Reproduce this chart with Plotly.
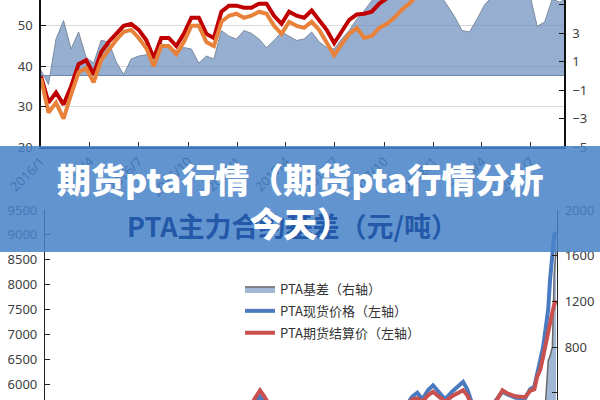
import plotly.graph_objects as go
import pandas as pd

# ---------------- top chart data (14-day steps from 2016-01-01) ----------------
top_dates = pd.date_range("2016-01-01", periods=71, freq="14D")

top_futures = [37.5, 31.0, 33.5, 30.5, 35.0, 40.5, 41.5, 38.0, 43.5, 46.0,
               48.0, 50.0, 50.5, 49.0, 46.5, 42.0, 47.0, 47.0, 45.0, 48.0,
               52.0, 52.0, 48.0, 47.0, 53.5, 55.0, 55.0, 54.5, 54.5, 55.5,
               55.5, 52.5, 50.5, 53.5, 52.5, 52.0, 53.8, 51.5, 49.0, 45.7,
               48.5, 51.5, 52.8, 53.0, 53.5, 55.5, 56.8, 58.0, 59.0, 60.0,
               61, 62, 63, 64, 65, 64, 63, 62, 64, 65,
               66, 67, 65, 64, 66, 68, 70, 72, 74, 77, 80]

top_spot = [37.0, 28.5, 31.0, 27.0, 33.0, 38.5, 39.5, 36.0, 41.5, 44.0,
            46.5, 48.5, 49.0, 47.0, 44.5, 40.0, 45.0, 45.0, 43.0, 46.0,
            50.0, 50.0, 46.0, 45.0, 51.0, 52.5, 53.0, 52.0, 52.5, 53.5,
            53.0, 50.0, 48.0, 51.0, 50.0, 49.5, 51.0, 49.0, 46.0, 42.7,
            45.5, 48.0, 49.5, 47.0, 47.5, 49.5, 50.5, 52.0, 54.0, 55.5,
            57.5, 59, 61, 62, 63, 62, 61, 60, 62, 63,
            64, 65, 63, 62, 64, 66, 68, 70, 72, 75, 78]

top_basis = [0.4, -0.6, 2.6, 3.9, 1.9, 3.1, 1.3, 0.9, 2.5, 2.4,
             1.0, 0.1, 1.2, 1.4, 1.5, 1.3, 2.3, 2.0, 1.8, 2.0,
             1.9, 0.9, 1.4, 1.2, 3.2, 2.8, 2.6, 3.2, 3.0, 2.6,
             2.0, 2.5, 3.1, 2.8, 2.5, 2.6, 3.1, 2.4, 2.0, 1.9,
             2.6, 3.2, 4.0, 4.6, 5.3, 6.0, 6.5, 7.0, 7.5, 7.0,
             6.5, 6.8, 6.2, 5.8, 5.0, 4.2, 3.2, 3.1, 4.0, 5.0,
             5.6, 6.5, 7.0, 6.8, 6.2, 5.8, 3.5, 3.8, 5.4, 5.2, 5.5]

top_tickvals = ["2016-01-01", "2016-04-01", "2016-07-01", "2016-10-01",
                "2017-01-01", "2017-04-01", "2017-07-01", "2017-10-01",
                "2018-01-01", "2018-04-01", "2018-07-01"]
top_ticktext = ["2016/1", "2016/4", "2016/7", "2016/10", "2017/1", "2017/4",
                "2017/7", "2017/10", "2018/1", "2018/4", "2018/7"]

# ---------------- bottom chart data ----------------
bot_dates = ["2015-09-01", "2016-04-15", "2016-10-27", "2016-11-17", "2016-11-30",
             "2016-12-09", "2016-12-18", "2016-12-31", "2017-02-12", "2017-05-09",
             "2017-08-26", "2017-10-19", "2017-11-03", "2017-11-14", "2017-11-25",
             "2017-12-07", "2017-12-18", "2017-12-29", "2018-01-13", "2018-01-28",
             "2018-02-10", "2018-02-21", "2018-03-02", "2018-03-13", "2018-04-10",
             "2018-05-06", "2018-05-17", "2018-05-27", "2018-06-14", "2018-07-05",
             "2018-07-16", "2018-07-25", "2018-07-31", "2018-08-07", "2018-08-13",
             "2018-08-18", "2018-08-24", "2018-08-28", "2018-09-02", "2018-09-06",
             "2018-09-10"]

bot_spot = [5000, 5000, 5300, 5500, 5650, 5750, 5650, 5500, 5400, 5000,
            5300, 5550, 5750, 5830, 5700, 5880, 5980, 5850, 5700, 5850,
            5950, 6050, 5900, 5600, 5400, 5700, 5850, 5800, 5730, 5720,
            5900, 5950, 6250, 6500, 6750, 7100, 7500, 8100, 8600, 9000, 9050]

bot_futures = [5050, 5050, 5350, 5550, 5750, 5880, 5760, 5550, 5450, 5000,
               5350, 5500, 5700, 5720, 5650, 5780, 5850, 5760, 5650, 5760,
               5820, 5880, 5780, 5550, 5400, 5700, 5880, 5820, 5760, 5740,
               5870, 5900, 6150, 6300, 6550, 6800, 7050, 7300, 7450, 7600, 7680]

bot_basis = [-50, -50, -50, -50, -100, -130, -110, -50, -50, 0,
             -50, 50, 50, 110, 50, 100, 130, 90, 50, 90,
             130, 170, 120, 50, 0, 0, -30, -20, -30, -20,
             30, 50, 100, 200, 200, 300, 680, 720, 800, 1450, 1650]

legend_names = ["PTA基差（右轴）", "PTA现货价格（左轴）", "PTA期货结算价（左轴）"]
bottom_title = "PTA主力合约基差（元/吨）"
banner_text = "期货pta行情（期货pta行情分析<br>今天）"

tick_font = dict(family="Noto Sans, Open Sans, sans-serif", size=13, color="#404040")
cjk = "Noto Sans CJK SC, sans-serif"

fig = go.Figure()

# top chart: basis area on base axis (right side), lines on overlay (left side)
fig.add_trace(go.Scatter(x=top_dates, y=top_basis, xaxis="x", yaxis="y",
                         mode="lines", fill="tozeroy",
                         fillcolor="rgba(100,135,185,0.68)",
                         line=dict(color="#7c8ba0", width=1),
                         showlegend=False, hoverinfo="skip"))
fig.add_trace(go.Scatter(x=top_dates, y=top_futures, xaxis="x", yaxis="y2",
                         mode="lines", line=dict(color="#c00000", width=4),
                         showlegend=False, hoverinfo="skip"))
fig.add_trace(go.Scatter(x=top_dates, y=top_spot, xaxis="x", yaxis="y2",
                         mode="lines", line=dict(color="#e8823a", width=4),
                         showlegend=False, hoverinfo="skip"))

# bottom chart
fig.add_trace(go.Scatter(x=bot_dates, y=bot_basis, xaxis="x2", yaxis="y3",
                         mode="lines", fill="tozeroy", name=legend_names[0],
                         fillcolor="rgba(100,135,185,0.6)",
                         line=dict(color="#6b6b6b", width=1.5),
                         legendgroup="a", hoverinfo="skip"))
fig.add_trace(go.Scatter(x=bot_dates, y=bot_spot, xaxis="x2", yaxis="y4",
                         mode="lines", name=legend_names[1],
                         line=dict(color="#4a7bc0", width=4),
                         legendgroup="b", hoverinfo="skip"))
fig.add_trace(go.Scatter(x=bot_dates, y=bot_futures, xaxis="x2", yaxis="y4",
                         mode="lines", name=legend_names[2],
                         line=dict(color="#c9504d", width=4),
                         legendgroup="c", hoverinfo="skip"))

fig.update_layout(
    width=600, height=400, autosize=False,
    margin=dict(l=0, r=0, t=0, b=0, pad=0),
    paper_bgcolor="white", plot_bgcolor="white",
    xaxis=dict(domain=[41/600, 564/600], anchor="y", type="date", automargin=False,
               range=["2016-01-01", "2018-09-01"],
               tickvals=top_tickvals, ticktext=top_ticktext, tickangle=-45,
               ticks="inside", ticklen=5, tickcolor="#1f2f4a",
               showline=True, linecolor="#1f2f4a", linewidth=1.5,
               showgrid=False, zeroline=False,
               tickfont=dict(family="Noto Sans, sans-serif", size=13, color="#333333")),
    yaxis=dict(domain=[253/400, 1], anchor="x", side="right", automargin=False,
               range=[-5, 5.35], tickvals=[-5, -3, -1, 1, 3, 5],
               ticks="inside", ticklen=5, tickcolor="#111",
               showline=True, linecolor="#111", linewidth=1.5,
               showgrid=False, zeroline=True, zerolinecolor="#7c8ba0",
               zerolinewidth=1, tickfont=tick_font, ticklabelstandoff=4),
    yaxis2=dict(overlaying="y", anchor="x", side="left", automargin=False,
                range=[20, 56.4], tick0=20, dtick=10,
                ticks="inside", ticklen=5, tickcolor="#111",
                showline=True, linecolor="#111", linewidth=1.5,
                showgrid=True, gridcolor="#d9d9d9", gridwidth=1, zeroline=False,
                tickfont=tick_font, ticklabelstandoff=4),
    xaxis2=dict(domain=[45/600, 557/600], anchor="y3", type="date", automargin=False,
                range=["2015-09-01", "2018-09-12"], visible=False),
    yaxis3=dict(domain=[0, 190/400], anchor="x2", side="right", automargin=False,
                range=[336, 2000], tick0=0, dtick=400,
                ticks="inside", ticklen=5, tickcolor="#222",
                showline=True, linecolor="#222", linewidth=1.2,
                showgrid=False, zeroline=False,
                tickfont=tick_font, ticklabelstandoff=4),
    yaxis4=dict(overlaying="y3", anchor="x2", side="left", automargin=False,
                range=[5685, 9500], tick0=0, dtick=500,
                ticks="inside", ticklen=5, tickcolor="#222",
                showline=True, linecolor="#222", linewidth=1.2,
                showgrid=False, zeroline=False,
                tickfont=tick_font, ticklabelstandoff=4),
    legend=dict(x=0.4, y=0.315, xanchor="left", yanchor="top",
                bgcolor="rgba(0,0,0,0)", tracegroupgap=2,
                font=dict(family=cjk, size=13, color="#333")),
    shapes=[dict(type="rect", xref="paper", yref="paper", x0=0, x1=1,
                 y0=148/400, y1=254/400, fillcolor="rgba(70,130,200,0.85)",
                 line=dict(width=0), layer="above")],
    annotations=[
        dict(text=bottom_title, xref="paper", yref="paper", x=292/600, y=175/400,
             showarrow=False, xanchor="center", yanchor="middle",
             font=dict(family=cjk, size=27, color="rgb(36,88,168)", weight="bold")),
        dict(text=banner_text, xref="paper", yref="paper", x=0.5, y=199/400,
             showarrow=False, xanchor="center", yanchor="middle",
             font=dict(family=cjk, size=34, color="white", weight=900)),
    ],
)

fig.write_html("out.html", config={"displayModeBar": False},
               post_script="document.body.style.margin='0px';document.body.style.overflow='hidden';")
